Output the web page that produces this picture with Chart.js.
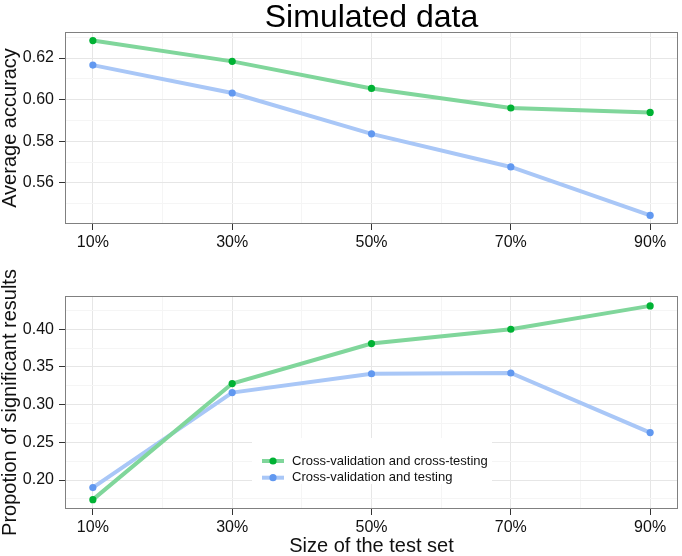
<!DOCTYPE html>
<html>
<head>
<meta charset="utf-8">
<title>Simulated data</title>
<script src="https://cdn.jsdelivr.net/npm/chart.js@4.4.1/dist/chart.umd.min.js"></script>
<style>
  html, body { margin: 0; padding: 0; background: #fff; }
  #wrap { position: relative; width: 682px; height: 556px; overflow: hidden; }
  .box { position: absolute; left: 0; width: 682px; }
  #top { top: 0; height: 256px; }
  #bottom { top: 256px; height: 300px; }
</style>
</head>
<body>
<div id="wrap">
  <div class="box" id="top"><canvas id="accChart"></canvas></div>
  <div class="box" id="bottom"><canvas id="sigChart"></canvas></div>
</div>
<script>
// test set sizes (%)
const sizes = [10, 30, 50, 70, 90];
const seriesNames = ['Cross-validation and cross-testing', 'Cross-validation and testing'];

// average accuracy
const accCross = [0.6284, 0.6184, 0.6054, 0.5960, 0.5939];
const accTest = [0.6166, 0.6032, 0.5836, 0.5677, 0.5444];

// proportion of significant results
const sigCross = [0.174, 0.328, 0.381, 0.400, 0.431];
const sigTest = [0.190, 0.316, 0.341, 0.342, 0.263];

// tick labels
const xTicks = [10, 30, 50, 70, 90];
const accTicks = [0.56, 0.58, 0.60, 0.62];
const sigTicks = [0.20, 0.25, 0.30, 0.35, 0.40];

const greenLine = '#80d69b', greenPt = '#00b234';
const blueLine = '#a9c7f7', bluePt = '#6198f0';
const majorGrid = '#e6e6e6', minorGrid = '#f5f5f5';

Chart.defaults.font.family = '"Liberation Sans", Arial, sans-serif';
Chart.defaults.color = '#111';

function isMajor(list, v) {
  return list.some(m => Math.abs(m - v) < 1e-9);
}

// major ticks plus the half-way minor ones, kept inside the axis range
function withMinor(major, min, max) {
  const step = major[1] - major[0];
  const out = [];
  major.forEach(v => { out.push(v); out.push(v - step / 2); });
  out.push(major[major.length - 1] + step / 2);
  return out.filter(v => v >= min && v <= max).sort((a, b) => a - b);
}

function gridOpts(list) {
  return {
    color: c => (c.tick && isMajor(list, c.tick.value)) ? majorGrid : minorGrid,
    tickColor: c => (c.tick && isMajor(list, c.tick.value)) ? '#333' : 'rgba(0,0,0,0)',
    tickLength: 6,
    lineWidth: 1
  };
}

function xScale(height, title) {
  return {
    type: 'linear', min: 6, max: 94,
    afterBuildTicks: s => { s.ticks = withMinor(xTicks, 6, 94).map(v => ({ value: v })); },
    afterFit: s => { s.height = height; },
    ticks: {
      autoSkip: false, maxRotation: 0, padding: 3, font: { size: 16 },
      callback: v => isMajor(xTicks, v) ? v + '%' : ''
    },
    grid: gridOpts(xTicks),
    border: { display: false },
    title: title ? { display: true, text: title, font: { size: 20, lineHeight: 1 }, padding: { top: 0, bottom: 0 } } : { display: false }
  };
}

function yScale(ticksList, min, max, title) {
  return {
    min: min, max: max,
    afterBuildTicks: s => { s.ticks = withMinor(ticksList, min, max).map(v => ({ value: v })); },
    afterFit: s => { s.width = 65; },
    ticks: {
      autoSkip: false, padding: 5, font: { size: 16 },
      callback: v => isMajor(ticksList, v) ? v.toFixed(2) : ''
    },
    grid: gridOpts(ticksList),
    border: { display: false },
    title: { display: true, text: title, font: { size: 20, lineHeight: 1 }, padding: { top: 0, bottom: 0 } }
  };
}

function series(label, values, line, pt) {
  return {
    label: label,
    data: values.map((v, i) => ({ x: sizes[i], y: v })),
    borderColor: line, borderWidth: 4,
    pointBackgroundColor: pt, pointBorderWidth: 0, pointRadius: 3.6,
    tension: 0
  };
}

// grey border around the panel
const panelBorder = {
  id: 'panelBorder',
  afterDatasetsDraw(chart) {
    const a = chart.chartArea, ctx = chart.ctx;
    ctx.save();
    ctx.strokeStyle = '#808080';
    ctx.lineWidth = 1;
    ctx.strokeRect(Math.round(a.left) + 0.5, Math.round(a.top) + 0.5,
      Math.round(a.right - a.left) - 1, Math.round(a.bottom - a.top) - 1);
    ctx.restore();
  }
};

const plotTitle = {
  id: 'plotTitle',
  afterDraw(chart, args, opts) {
    if (!opts.text) return;
    const a = chart.chartArea, ctx = chart.ctx;
    ctx.save();
    ctx.font = '32px "Liberation Sans", Arial, sans-serif';
    ctx.fillStyle = '#000';
    ctx.textAlign = 'center';
    ctx.textBaseline = 'alphabetic';
    ctx.fillText(opts.text, (a.left + a.right) / 2, opts.baseline);
    ctx.restore();
  }
};

const insideLegend = {
  id: 'insideLegend',
  beforeDatasetsDraw(chart, args, opts) {
    if (!opts.show) return;
    const ctx = chart.ctx;
    ctx.save();
    ctx.fillStyle = '#fff';
    ctx.fillRect(opts.x, opts.y, opts.w, opts.h);
    ctx.font = '13px "Liberation Sans", Arial, sans-serif';
    ctx.textBaseline = 'middle';
    chart.data.datasets.forEach((ds, i) => {
      const y = opts.y + opts.first + i * opts.gap;
      ctx.strokeStyle = ds.borderColor;
      ctx.lineWidth = ds.borderWidth;
      ctx.beginPath();
      ctx.moveTo(opts.x + 10, y);
      ctx.lineTo(opts.x + 32, y);
      ctx.stroke();
      ctx.fillStyle = ds.pointBackgroundColor;
      ctx.beginPath();
      ctx.arc(opts.x + 21, y, 3.6, 0, Math.PI * 2);
      ctx.fill();
      ctx.fillStyle = '#111';
      ctx.fillText(ds.label, opts.x + 40, y);
    });
    ctx.restore();
  }
};

new Chart(document.getElementById('accChart'), {
  type: 'line',
  data: {
    datasets: [
      series(seriesNames[0], accCross, greenLine, greenPt),
      series(seriesNames[1], accTest, blueLine, bluePt)
    ]
  },
  options: {
    responsive: true, maintainAspectRatio: false, animation: false,
    layout: { padding: { left: 0, right: 2.5, top: 32, bottom: 0 } },
    scales: {
      x: xScale(32),
      y: yScale(accTicks, 0.5403, 0.6325, 'Average accuracy')
    },
    plugins: {
      legend: { display: false },
      tooltip: { enabled: false },
      plotTitle: { text: 'Simulated data', baseline: 27 }
    }
  },
  plugins: [panelBorder, plotTitle]
});

new Chart(document.getElementById('sigChart'), {
  type: 'line',
  data: {
    datasets: [
      series(seriesNames[0], sigCross, greenLine, greenPt),
      series(seriesNames[1], sigTest, blueLine, bluePt)
    ]
  },
  options: {
    responsive: true, maintainAspectRatio: false, animation: false,
    layout: { padding: { left: 0, right: 2.5, top: 40, bottom: 0 } },
    scales: {
      x: xScale(47, 'Size of the test set'),
      y: yScale(sigTicks, 0.1616, 0.4441, 'Propotion of significant results')
    },
    plugins: {
      legend: { display: false },
      tooltip: { enabled: false },
      insideLegend: { show: true, x: 252, y: 182, w: 240, h: 46, first: 23, gap: 16.7 }
    }
  },
  plugins: [panelBorder, insideLegend]
});
</script>
</body>
</html>
